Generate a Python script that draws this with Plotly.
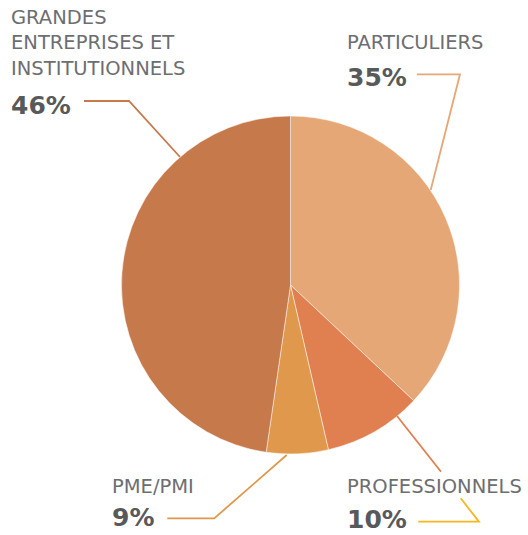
import plotly.graph_objects as go

W, H = 528, 535

# ---- data ----
categories = ["PARTICULIERS", "PROFESSIONNELS", "PME/PMI", "GRANDES<br>ENTREPRISES ET<br>INSTITUTIONNELS"]
slice_values = [37.0, 9.4, 5.9, 47.7]          # proportions as drawn
label_percents = ["35%", "10%", "9%", "46%"]     # printed labels
colors = ["#E6A776", "#E08051", "#E0984D", "#C6794B"]

def px(x):
    return x / W

def py(y):
    return 1 - y / H

cx, cy, r = 290.5, 285.0, 169.0

fig = go.Figure(go.Pie(
    labels=categories,
    values=slice_values,
    sort=False,
    direction="clockwise",
    rotation=0,
    textinfo="none",
    hoverinfo="label+percent",
    marker=dict(colors=colors, line=dict(color="rgba(255,255,255,0.6)", width=0.8)),
    domain=dict(x=[px(cx - r), px(cx + r)], y=[py(cy + r), py(cy - r)]),
    showlegend=False,
))

def path(points):
    return "M " + " L ".join(f"{px(x):.5f},{py(y):.5f}" for x, y in points)

leaders = [
    ([(84, 101), (129, 101), (180, 157)], colors[3]),
    ([(417, 74.3), (460, 74.3), (430.7, 190)], colors[0]),
    ([(397, 416), (441, 471.7)], colors[1]),
    ([(460.7, 498.3), (479, 521.7), (418.3, 521.7)], "#F6B81E"),
    ([(286.7, 455), (214.3, 518.3), (167.3, 518.3)], colors[2]),
]
shapes = []
for pts, col in leaders:
    shapes.append(dict(type="path", xref="paper", yref="paper", path=path(pts),
                       line=dict(color=col, width=1.8), fillcolor="rgba(0,0,0,0)"))

label_font = dict(family="DejaVu Sans", size=19.5, color="#6d6e71")
pct_font = dict(family="DejaVu Sans", size=25, color="#58595b", weight="bold")

# (name_x, name_y, pct_x, pct_y) in pixels
positions = [
    (345, 43, 345, 77.5),
    (345, 486, 345, 519),
    (110, 486.5, 110, 517),
    (9, 43, 9, 106),
]
annotations = []
for cat, pct, (nx, ny, qx, qy) in zip(categories, label_percents, positions):
    annotations.append(dict(x=px(nx), y=py(ny), xref="paper", yref="paper", text=cat,
                            showarrow=False, xanchor="left", yanchor="middle", align="left",
                            font=label_font))
    annotations.append(dict(x=px(qx), y=py(qy), xref="paper", yref="paper", text=pct,
                            showarrow=False, xanchor="left", yanchor="middle", align="left",
                            font=pct_font))

fig.update_layout(
    width=W, height=H,
    margin=dict(l=0, r=0, t=0, b=0),
    paper_bgcolor="white", plot_bgcolor="white",
    shapes=shapes, annotations=annotations,
)

fig.write_html("out.html", config={"displayModeBar": False},
               post_script="document.body.style.margin='0px';")
